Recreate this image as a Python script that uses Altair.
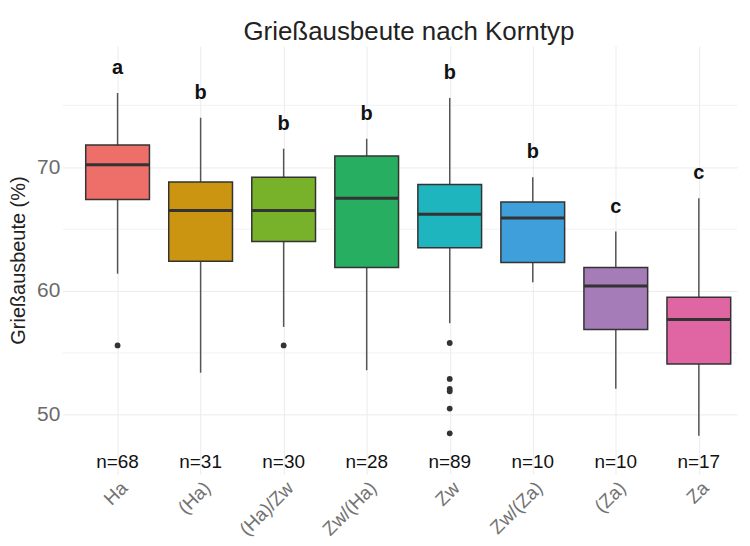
import altair as alt
import pandas as pd

categories = ["Ha", "(Ha)", "(Ha)/Zw", "Zw/(Ha)", "Zw", "Zw/(Za)", "(Za)", "Za"]
colors = ["#EE6E6A", "#CC9511", "#78B22A", "#27AE60", "#1EB5BF", "#3E9FDB", "#A57BB8", "#E065A3"]
whisker_low = [61.4, 53.4, 57.1, 53.6, 57.4, 60.7, 52.1, 48.3]
q1 = [67.4, 62.4, 64.0, 61.9, 63.5, 62.3, 56.9, 54.1]
median = [70.2, 66.5, 66.5, 67.5, 66.2, 65.9, 60.4, 57.7]
q3 = [71.8, 68.8, 69.2, 70.9, 68.6, 67.2, 61.9, 59.5]
whisker_high = [76.0, 74.0, 71.5, 72.3, 75.6, 69.2, 64.8, 67.5]
letters = ["a", "b", "b", "b", "b", "b", "c", "c"]
counts = [68, 31, 30, 28, 89, 10, 10, 17]
outlier_cat = ["Ha", "(Ha)/Zw", "Zw", "Zw", "Zw", "Zw", "Zw", "Zw"]
outlier_val = [55.6, 55.6, 55.8, 52.9, 52.1, 51.9, 50.5, 48.5]
minor_grid = [55, 65, 75]

letter_offset = 2.0
n_label_y = 46.2

df = pd.DataFrame({
    "cat": categories,
    "idx": list(range(1, len(categories) + 1)),
    "lo": whisker_low, "q1": q1, "med": median, "q3": q3, "hi": whisker_high,
    "letter": letters,
    "n": ["n=" + str(c) for c in counts],
})
df["letter_y"] = df["hi"] + letter_offset
df["n_y"] = n_label_y

out = pd.DataFrame({"cat": outlier_cat, "val": outlier_val})
out["idx"] = out["cat"].map({c: i + 1 for i, c in enumerate(categories)})

grid_df = pd.DataFrame({"v": minor_grid})

names_js = "[" + ",".join("'" + c + "'" for c in categories) + "]"

xscale = alt.Scale(domain=[0.4, 8.4], nice=False, zero=False)
yscale = alt.Scale(domain=[45.2, 79.8], nice=False, zero=False)

x_axis = alt.Axis(
    values=list(range(1, 9)), labelExpr=names_js + "[datum.value-1]",
    labelAngle=-45, labelAlign="right", labelBaseline="top", labelPadding=4,
    labelFontSize=19, labelColor="#737373", labelFont="Liberation Sans",
    grid=True, gridColor="#EBEBEB", gridWidth=1, ticks=False, domain=False, title=None,
)
y_axis = alt.Axis(
    values=[50, 60, 70], labelFontSize=21, labelColor="#6b6b6b", labelFont="Liberation Sans",
    labelPadding=3, grid=True, gridColor="#EBEBEB", gridWidth=1, ticks=False, domain=False,
    title="Grießausbeute (%)", titleFontSize=20, titleFontWeight="normal", titleColor="#222222",
    titleFont="Liberation Sans", titlePadding=8,
)

X = alt.X("idx:Q", scale=xscale, axis=x_axis)

minor = alt.Chart(grid_df).mark_rule(color="#F2F2F2", strokeWidth=1).encode(
    y=alt.Y("v:Q", scale=yscale, axis=y_axis)
)

base = alt.Chart(df)

whiskers = base.mark_rule(color="#555555", strokeWidth=1.5).encode(
    x=X, y=alt.Y("lo:Q", scale=yscale, axis=y_axis), y2="hi:Q"
)
boxes = base.mark_bar(size=64, stroke="#333333", strokeWidth=1.5, opacity=1).encode(
    x=X, y=alt.Y("q1:Q", scale=yscale), y2="q3:Q",
    color=alt.Color("cat:N", scale=alt.Scale(domain=categories, range=colors), legend=None),
)
medians = base.mark_tick(size=64, thickness=3, color="#333333", orient="horizontal", opacity=1).encode(
    x=X, y=alt.Y("med:Q", scale=yscale)
)
outliers = alt.Chart(out).mark_circle(size=34, color="#333333", opacity=1).encode(
    x=X, y=alt.Y("val:Q", scale=yscale)
)
letter_text = base.mark_text(fontSize=20, fontWeight="bold", color="#111111",
                             font="Liberation Sans", baseline="middle").encode(
    x=X, y=alt.Y("letter_y:Q", scale=yscale), text="letter:N"
)
n_text = base.mark_text(fontSize=19, color="#111111", font="Liberation Sans",
                        baseline="middle").encode(
    x=X, y=alt.Y("n_y:Q", scale=yscale), text="n:N"
)

chart = alt.layer(minor, whiskers, boxes, medians, outliers, letter_text, n_text).properties(
    width=677, height=430,
    autosize=alt.AutoSizeParams(type="none"),
    padding={"left": 55, "top": 37, "right": 5, "bottom": 71},
    title=alt.TitleParams("Grießausbeute nach Korntyp", fontSize=26, fontWeight="normal",
                          color="#222222", font="Liberation Sans", anchor="middle",
                          offset=1, dx=9),
).configure_view(stroke=None)

chart.save("out.html", embed_options={"renderer": "svg", "actions": False})
